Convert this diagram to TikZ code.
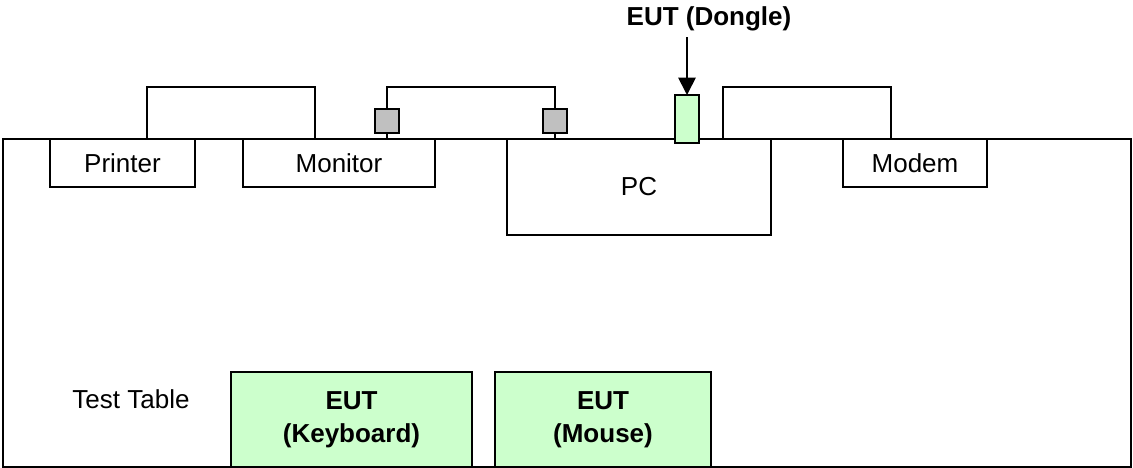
\documentclass[tikz,border=0pt]{standalone}
\usepackage{fontspec}
\setmainfont{Liberation Sans}
\usetikzlibrary{arrows.meta,calc}
\definecolor{eutgreen}{HTML}{CCFFCC}
\definecolor{pluggray}{HTML}{C0C0C0}
\def\u{0.75pt}
\begin{document}
\begin{tikzpicture}[
        x=\u, y=-\u,
        line width=1.3pt,
        % 样式
        every node/.style={font=\fontsize{19.5}{24.5}\selectfont, outer sep=0pt, inner sep=0pt},
        unit/.style={draw, fill=white, minimum height=48*\u},
        plug/.style={draw, fill=pluggray, minimum width=24*\u, minimum height=24*\u},
        eut/.style={draw, fill=eutgreen, align=center, font=\fontsize{19.5}{24.5}\selectfont\bfseries},
        cable/.style={line join=miter},
    ]
    \useasboundingbox (0,0) rectangle (1133,468);

    % 测试桌
    \draw (3,139) rectangle (1131,467);
    \node (tlabel) at (131,399) {Test Table};

    % 桌上设备
    \node[unit, minimum width=145*\u] (printer) at (122.5,163) {Printer};
    \node[unit, minimum width=192*\u] (monitor) at (339,163) {Monitor};
    \node[unit, minimum width=264*\u, minimum height=96*\u] (pc) at (639,187) {PC};
    \node[unit, minimum width=144*\u] (modem) at (915,163) {Modem};

    % 被测设备
    \node[eut, minimum width=241*\u, minimum height=95*\u] (keyboard) at (351.5,419.5) {EUT\\(Keyboard)};
    \node[eut, minimum width=216*\u, minimum height=95*\u] (mouse) at (603,419.5) {EUT\\(Mouse)};
    \node[eut, minimum width=24*\u, minimum height=48*\u] (dongle) at (687,119) {};
    \node[font=\fontsize{19.5}{24.5}\selectfont\bfseries] (dlabel) at (709,19) {EUT (Dongle)};
    \draw[-{Triangle[length=13pt,width=13pt]}] (dongle.north |- 0,37) -- (dongle.north);

    % 插头
    \node[plug] (mplug) at (387,121) {};
    \node[plug] (pplug) at (555,121) {};

    % 线缆
    \draw[cable] ($(printer.north west)+(97,0)$) -- ++(0,-52) -| ($(monitor.north west)+(72,0)$);
    \draw[cable] (mplug.north) -- ++(0,-22) -| (pplug.north);
    \draw (mplug.south) -- (mplug.south |- monitor.north);
    \draw (pplug.south) -- (pplug.south |- pc.north);
    \draw[cable] ($(pc.north east)+(-48,0)$) -- ++(0,-52) -| ($(modem.north west)+(48,0)$);
\end{tikzpicture}
\end{document}
